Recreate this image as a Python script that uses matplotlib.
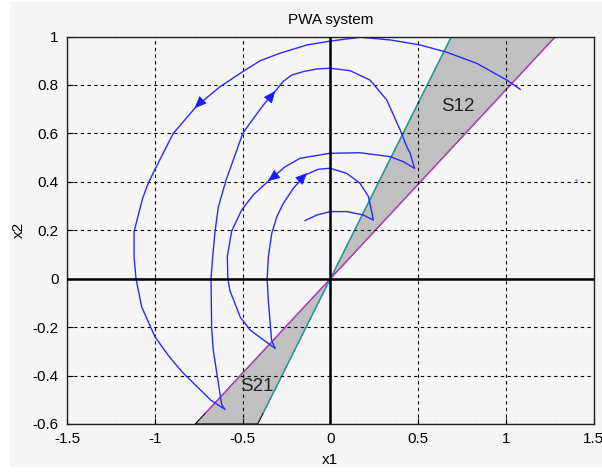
import numpy as np
import matplotlib
matplotlib.use("Agg")
import matplotlib.pyplot as plt
from matplotlib.patches import Polygon, Rectangle

plt.rcParams['font.family'] = ['Liberation Sans', 'DejaVu Sans']

# spiral trajectory of the PWA system (start at right)
traj_x = [1.081, 1.005, 0.834, 0.663, 0.511, 0.34, 0.169, -0.002, -0.134, -0.287,
          -0.40, -0.499, -0.628, -0.761, -0.895, -1.0, -1.04, -1.07, -1.095, -1.118,
          -1.118, -1.107, -1.075, -0.999, -0.92, -0.838, -0.68, -0.60,
          -0.619, -0.638, -0.667, -0.676, -0.68, -0.67, -0.657, -0.638, -0.594,
          -0.553, -0.499, -0.458, -0.382, -0.325, -0.268, -0.22, -0.154, -0.077,
          -0.002, 0.112, 0.226, 0.321, 0.40, 0.435, 0.454, 0.48,
          0.416, 0.34, 0.169, -0.002, -0.173, -0.258, -0.343, -0.439, -0.505, -0.562,
          -0.587, -0.584, -0.572, -0.55, -0.514, -0.457, -0.381, -0.315,
          -0.335, -0.354, -0.36, -0.353, -0.334, -0.305, -0.268, -0.211, -0.144,
          -0.068, -0.002, 0.093, 0.169, 0.217, 0.245,
          0.188, 0.093, -0.002, -0.077, -0.144]
traj_y = [0.782, 0.82, 0.889, 0.935, 0.965, 0.986, 0.997, 0.981, 0.965, 0.931,
          0.90, 0.855, 0.793, 0.713, 0.600, 0.45, 0.39, 0.33, 0.26, 0.194,
          0.091, 0.0, -0.116, -0.24, -0.32, -0.39, -0.502, -0.54,
          -0.52, -0.432, -0.295, -0.205, 0.0, 0.091, 0.194, 0.297, 0.407,
          0.49, 0.6, 0.642, 0.717, 0.765, 0.815, 0.841, 0.855, 0.866,
          0.869, 0.859, 0.82, 0.738, 0.61, 0.545, 0.518, 0.455,
          0.483, 0.504, 0.52, 0.518, 0.497, 0.462, 0.41, 0.346, 0.284, 0.197,
          0.091, 0.0, -0.05, -0.09, -0.158, -0.212, -0.253, -0.288,
          -0.253, -0.085, 0.0, 0.091, 0.187, 0.256, 0.311, 0.373, 0.428,
          0.452, 0.456, 0.435, 0.394, 0.339, 0.242,
          0.263, 0.277, 0.277, 0.263, 0.24]

# arrow heads: position and direction of travel
arrow_x = [-0.761, -0.325, -0.343, -0.144]
arrow_y = [0.713, 0.765, 0.41, 0.428]
arrow_dx = [-0.267, 0.114, -0.266, 0.200]
arrow_dy = [-0.193, 0.103, -0.151, 0.141]

# switching boundaries y = k*x
slope_steep = 1.45
slope_flat = 0.78
region_labels = ["S12", "S21"]
label_x = [0.726, -0.416]
label_y = [0.71, -0.447]

xlim = (-1.5, 1.5)
ylim = (-0.6, 1.0)
bg = "#f5f5f5"

fig = plt.figure(figsize=(6.02, 4.73), dpi=100, facecolor="white")
fig.patches.append(Rectangle((10 / 602, 7 / 473), 1, 1 - 9 / 473,
                             transform=fig.transFigure, color=bg, zorder=-10))
ax = fig.add_axes([0.1113, 0.1036, 0.875, 0.8192])
ax.set_facecolor(bg)

# shaded sectors
top_s, top_f = ylim[1] / slope_steep, ylim[1] / slope_flat
bot_s, bot_f = ylim[0] / slope_steep, ylim[0] / slope_flat
for pts in ([(0, 0), (top_s, ylim[1]), (top_f, ylim[1])],
            [(0, 0), (bot_f, ylim[0]), (bot_s, ylim[0])]):
    ax.add_patch(Polygon(pts, closed=True, facecolor="#c0c0c0",
                         edgecolor="black", lw=0.8, zorder=1))

xs = np.array([-0.38, top_s])
ax.plot(xs, slope_steep * xs, color="#20b0b0", lw=0.9, zorder=1.2)
xf = np.array([-0.71, top_f])
ax.plot(xf, slope_flat * xf, color="#d040d0", lw=0.9, zorder=1.2)

ax.plot(traj_x, traj_y, color="#2a2aff", lw=1.0, zorder=2)
for x, y, dx, dy in zip(arrow_x, arrow_y, arrow_dx, arrow_dy):
    n = np.hypot(dx, dy)
    ax.annotate("", xy=(x + 0.015 * dx / n, y + 0.015 * dy / n),
                xytext=(x - 0.01 * dx / n, y - 0.01 * dy / n),
                arrowprops=dict(arrowstyle="-|>,head_length=0.7,head_width=0.3",
                                color="#1a1aff", lw=0.5, shrinkA=0, shrinkB=0,
                                mutation_scale=11), zorder=2)
ax.plot([1.40], [0.407], ".", color="#8080ff", ms=1.5)

for lab, x, y in zip(region_labels, label_x, label_y):
    ax.text(x, y, lab, fontsize=13.5, color="#222222", ha="center", va="center")

ax.axhline(0, color="black", lw=1.8, zorder=3)
ax.axvline(0, color="black", lw=1.8, zorder=3)

ax.set_xlim(*xlim)
ax.set_ylim(*ylim)
ax.set_xticks(np.arange(-1.5, 1.51, 0.5))
ax.set_xticklabels(["-1.5", "-1", "-0.5", "0", "0.5", "1", "1.5"])
ax.set_yticks(np.arange(-0.6, 1.01, 0.2))
ax.set_yticklabels(["-0.6", "-0.4", "-0.2", "0", "0.2", "0.4", "0.6", "0.8", "1"])
ax.tick_params(direction="in", length=4, labelsize=11, pad=6, color="black")
ax.set_axisbelow("line")
ax.grid(True, color="black", linestyle=(0, (3, 3)), lw=0.8)
for s in ax.spines.values():
    s.set_color("#222222")
    s.set_linewidth(1.0)

ax.set_title("PWA system", fontsize=11, pad=9)
ax.set_xlabel("x1", fontsize=11, labelpad=5)
ax.set_ylabel("x2", fontsize=11, labelpad=5)

plt.savefig("out.png", dpi=100, facecolor=fig.get_facecolor())
plt.close()
